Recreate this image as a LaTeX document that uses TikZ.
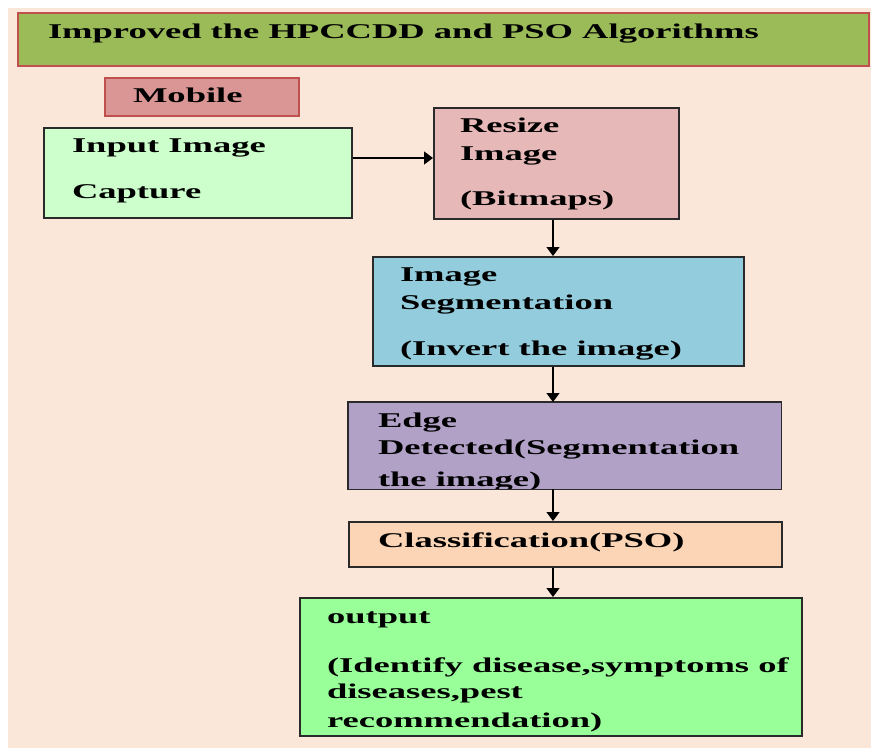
\documentclass[tikz,border=0pt]{standalone}
\usepackage{fontspec}
\setmainfont{Liberation Serif}[FakeStretch=1.74]
\usetikzlibrary{arrows.meta}
\definecolor{bgpeach}{HTML}{FBE7D9}
\definecolor{titlegreen}{HTML}{9BBB59}
\definecolor{redborder}{HTML}{C0504D}
\definecolor{mobilefill}{HTML}{D99694}
\definecolor{inputfill}{HTML}{CCFFCC}
\definecolor{resizefill}{HTML}{E6B9B8}
\definecolor{segfill}{HTML}{93CDDD}
\definecolor{edgefill}{HTML}{B2A1C7}
\definecolor{classfill}{HTML}{FBD5B5}
\definecolor{outfill}{HTML}{99FF99}
\definecolor{boxline}{HTML}{2A2A2A}
\tikzset{
  box/.style={draw=boxline, line width=1.6pt},
  redbox/.style={draw=redborder, line width=1.6pt},
  txt/.style={anchor=base west, inner sep=0pt, outer sep=0pt, font=\fontsize{21}{25}\selectfont\bfseries},
  flow/.style={draw=black, line width=1.3pt, -{Triangle[length=9pt,width=13pt]}}
}
\begin{document}
\begin{tikzpicture}[x=1pt,y=-1pt]
\useasboundingbox (0,0) rectangle (871,749);
\fill[bgpeach] (8,8) rectangle (871,748);
% title
\path[redbox, fill=titlegreen] (18,13) rectangle (869,66);
\node[txt] (title) at (48,39) {Improved the HPCCDD and PSO Algorithms};
% mobile
\path[redbox, fill=mobilefill] (105,78) rectangle (299,116);
\node[txt] (mobile) at (133,103) {Mobile};
% boxes
\node[box, fill=inputfill, anchor=north west, minimum width=308pt, minimum height=90pt, inner sep=0pt] (input) at (43,127) {};
\node[txt] (t1a) at (72,153) {Input Image};
\node[txt] (t1b) at (72,199) {Capture};
\node[box, fill=resizefill, anchor=north west, minimum width=245pt, minimum height=111pt, inner sep=0pt] (resize) at (433,107) {};
\node[txt] (t2a) at (460,133) {Resize};
\node[txt] (t2b) at (460,161) {Image};
\node[txt] (t2c) at (460,206) {(Bitmaps)};
\node[box, fill=segfill, anchor=north west, minimum width=371pt, minimum height=109pt, inner sep=0pt] (seg) at (372,256) {};
\node[txt] (t3a) at (400,281) {Image};
\node[txt] (t3b) at (400,309) {Segmentation};
\node[txt] (t3c) at (400,355) {(Invert the image)};
\node[fill=edgefill, anchor=north west, minimum width=433pt, minimum height=87pt, inner sep=0pt] (edge) at (348,402) {};
\begin{scope}
\clip (348,402) rectangle (781,488);
\node[txt] (t4a) at (378,427) {Edge};
\node[txt] (t4b) at (378,454) {Detected(Segmentation};
\node[txt] (t4c) at (378,486) {the image)};
\end{scope}
\draw[boxline, line width=1.6pt] (edge.north west) rectangle (edge.south east);
\node[box, fill=classfill, anchor=north west, minimum width=433pt, minimum height=45pt, inner sep=0pt] (cls) at (348,521) {};
\node[txt] (t5) at (378,547) {Classification(PSO)};
\node[box, fill=outfill, anchor=north west, minimum width=502pt, minimum height=138pt, inner sep=0pt] (out) at (299,597) {};
\node[txt] (t6a) at (327,623) {output};
\node[txt] (t6b) at (327,672) {(Identify disease,symptoms of};
\node[txt] (t6c) at (327,698) {diseases,pest};
\node[txt] (t6d) at (327,727) {recommendation)};
% connectors
\coordinate (a1) at (input.east |- 0,158);
\coordinate (a2) at (resize.west |- 0,158);
\draw[flow] (a1) -- (a2);
\coordinate (b1) at (553,0);
\draw[flow] (resize.south -| b1) -- (seg.north -| b1);
\draw[flow] (seg.south -| b1) -- (edge.north -| b1);
\draw[flow] (edge.south -| b1) -- (cls.north -| b1);
\draw[flow] (cls.south -| b1) -- (out.north -| b1);
\end{tikzpicture}
\end{document}
